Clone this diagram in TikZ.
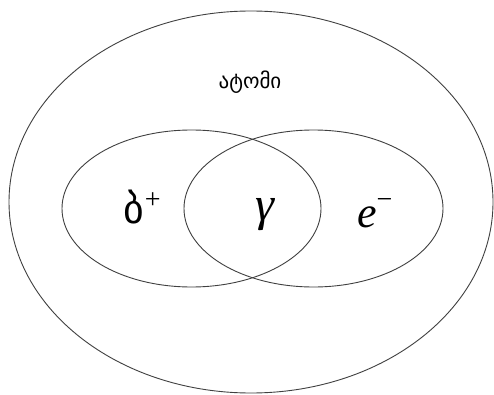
\documentclass[tikz,border=0pt]{standalone}
\usepackage{fontspec}
\newfontfamily\geofont[Script=Georgian]{DejaVu Sans}
\newfontfamily\tfont{Liberation Serif}
\begin{document}
\begin{tikzpicture}[x=1pt,y=-1pt,
  ring/.style={draw=black!75, line width=0.9pt},
  lbl/.style={inner sep=0pt}]
\useasboundingbox (0,0) rectangle (494,395);
\fill[white] (0,0) rectangle (494,395);
\draw[ring] (251,202) ellipse [x radius=242pt, y radius=191pt];
\draw[ring] (191.5,208.5) ellipse [x radius=129.5pt, y radius=78.5pt];
\draw[ring] (313.5,208.5) ellipse [x radius=129.5pt, y radius=78.5pt];
\node[lbl, anchor=center] (atom) at (250,82) {\fontsize{21}{24}\selectfont\geofont ატომი};
\node[lbl, anchor=base west] (ban) at (123,223) {\fontsize{40}{44}\selectfont\geofont ბ\kern1pt\raisebox{15pt}{\fontsize{28}{30}\selectfont\tfont +}};
\node[lbl, anchor=center] (gam) at (265,215) {\tfont\itshape\fontsize{48}{52}\selectfont γ};
\node[lbl, anchor=base west] (el) at (357,227) {\tfont\itshape\fontsize{44}{48}\selectfont e\raisebox{19pt}{\upshape\fontsize{28}{30}\selectfont −}};
\end{tikzpicture}
\end{document}
